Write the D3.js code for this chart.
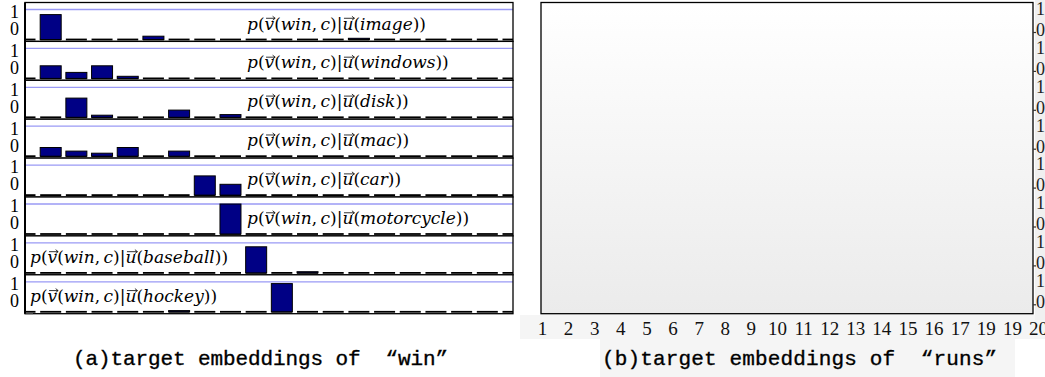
<!DOCTYPE html>
<html>
<head>
<meta charset="utf-8">
<script src="https://cdn.jsdelivr.net/npm/d3@7"></script>
<style>
  body { margin: 0; background: #fff; }
  svg { display: block; }
</style>
</head>
<body>
<svg id="chart" width="1045" height="377"></svg>
<script>
// --- data ---
const dims = [1, 2, 3, 4, 5, 6, 7, 8, 9, 10, 11, 12, 13, 14, 15, 16, 17, 18, 19, 20];
const xTickLabels = ["1", "2", "3", "4", "5", "6", "7", "8", "9", "10", "11", "12", "13", "14", "15", "16", "17", "19", "19", "20"];
const yTickLabels = ["1", "0"];
const contexts = ["image", "windows", "disk", "mac", "car", "motorcycle", "baseball", "hockey"];

const image      = [0, 0.83, 0, 0, 0, 0.11, 0, 0, 0, 0, 0, 0, 0, 0.04, 0, 0, 0, 0, 0, 0];
const windows    = [0, 0.42, 0.2, 0.42, 0.07, 0, 0, 0, 0, 0, 0, 0, 0, 0, 0, 0, 0, 0, 0, 0];
const disk       = [0, 0, 0.64, 0.07, 0, 0, 0.24, 0, 0.09, 0, 0, 0, 0, 0, 0, 0, 0, 0, 0, 0];
const mac        = [0, 0.29, 0.17, 0.1, 0.29, 0, 0.17, 0, 0, 0, 0, 0, 0, 0, 0, 0, 0, 0, 0, 0];
const car        = [0, 0, 0, 0, 0, 0, 0, 0.64, 0.36, 0, 0, 0, 0, 0, 0, 0, 0, 0, 0, 0];
const motorcycle = [0, 0, 0, 0, 0, 0, 0, 0, 1.0, 0, 0, 0, 0, 0, 0, 0, 0, 0, 0, 0];
const baseball   = [0, 0, 0, 0, 0, 0, 0, 0, 0, 0.87, 0, 0.04, 0, 0, 0, 0, 0, 0, 0, 0];
const hockey     = [0, 0, 0, 0, 0, 0, 0.04, 0, 0, 0, 0.94, 0, 0, 0, 0, 0, 0, 0, 0, 0];

const series = [image, windows, disk, mac, car, motorcycle, baseball, hockey];
const captionA = "(a)target embeddings of \u00a0\u201cwin\u201d";
const captionB = "(b)target embeddings of \u00a0\u201cruns\u201d";

// --- layout ---
const svg = d3.select("#chart");
const serif = "'Liberation Serif', 'DejaVu Serif', serif";
const mathFont = "'DejaVu Serif', serif";
const panelTop = 2.5, panelH = 38.9;
const left = { x0: 25, x1: 513 };
const right = { x0: 541, x1: 1033 };
const barW = 21;

const xL = d3.scaleLinear().domain([1, 20]).range([left.x0, left.x1]);
const xR = d3.scaleLinear().domain([1, 20]).range([542, 1038]);

const defs = svg.append("defs");
defs.append("clipPath").attr("id", "clipLeft")
  .append("rect").attr("x", left.x0).attr("y", 0).attr("width", left.x1 - left.x0).attr("height", 320);
defs.append("clipPath").attr("id", "clipLeftTicks")
  .append("rect").attr("x", 0).attr("y", 310).attr("width", 517).attr("height", 40);
const grad = defs.append("linearGradient").attr("id", "bgGrad")
  .attr("x1", 0).attr("y1", 0).attr("x2", 0).attr("y2", 1);
grad.append("stop").attr("offset", "0%").attr("stop-color", "#ffffff");
grad.append("stop").attr("offset", "100%").attr("stop-color", "#ebebeb");

// faint backgrounds of the pasted right-hand picture
svg.append("rect").attr("x", 520).attr("y", 315).attr("width", 525).attr("height", 24).attr("fill", "#f5f5f5");
svg.append("rect").attr("x", 1035).attr("y", 0).attr("width", 10).attr("height", 320).attr("fill", "#f0f0f0");
svg.append("rect").attr("x", 600).attr("y", 339).attr("width", 415).attr("height", 38).attr("fill", "#f5f5f5");

// --- left figure: 8 stacked bar panels ---
function mathLabel(g, x, y, ctx) {
  const fs = 17;
  const str = "p(v(win,\u2009c)|u(" + ctx + "))";
  const text = g.append("text").attr("x", x).attr("y", y)
    .style("font-family", mathFont).style("font-size", fs + "px").attr("fill", "#000");
  str.split("").forEach((ch) => {
    text.append("tspan").text(ch)
      .style("font-style", /[a-z]/.test(ch) ? "italic" : "normal");
  });
  // vector arrows over v (index 2) and u (index 12)
  [2, 12].forEach((k) => {
    const s = text.node().getStartPositionOfChar(k);
    const e = text.node().getEndPositionOfChar(k);
    const a0 = s.x + 1.5, a1 = e.x + 1, ay = y - fs * 0.66;
    g.append("path")
      .attr("d", `M${a0},${ay}L${a1},${ay}M${a1 - 2.5},${ay - 2}L${a1},${ay}L${a1 - 2.5},${ay + 2}`)
      .attr("fill", "none").attr("stroke", "#000").attr("stroke-width", 0.8);
  });
}

series.forEach((vals, i) => {
  const t = panelTop + i * panelH;
  const y = d3.scaleLinear().domain([0, 1]).range([t + 37, t + 7]);
  const g = svg.append("g");

  g.append("rect").attr("x", left.x0).attr("y", t).attr("width", left.x1 - left.x0).attr("height", panelH)
    .attr("fill", "#fff");

  // top guide line (value 1)
  g.append("line").attr("x1", left.x0).attr("x2", left.x1).attr("y1", y(1)).attr("y2", y(1))
    .attr("stroke", "#9a9af5").attr("stroke-width", 1.3);

  const bars = g.append("g").attr("clip-path", "url(#clipLeft)");
  bars.selectAll("line.zero").data(dims).join("line")
    .attr("x1", (d) => xL(d) - barW / 2).attr("x2", (d) => xL(d) + barW / 2)
    .attr("y1", y(0)).attr("y2", y(0))
    .attr("stroke", "#000").attr("stroke-width", 1.8);
  bars.selectAll("rect.bar").data(dims.filter((d, k) => vals[k] > 0)).join("rect")
    .attr("x", (d) => xL(d) - barW / 2).attr("width", barW)
    .attr("y", (d) => y(vals[d - 1])).attr("height", (d) => y(0) - y(vals[d - 1]))
    .attr("fill", "#000085").attr("stroke", "#000").attr("stroke-width", 1);

  const lx = i < 6 ? 247 : 30;
  mathLabel(g, lx, t + 27, contexts[i]);

  g.append("rect").attr("x", left.x0).attr("y", t).attr("width", left.x1 - left.x0).attr("height", panelH)
    .attr("fill", "none").attr("stroke", "#000").attr("stroke-width", 1.3);

  // y tick labels
  g.selectAll("text.ytick").data(yTickLabels).join("text")
    .attr("x", 19).attr("y", (d, k) => t + (k === 0 ? 9 : 26))
    .attr("dy", "0.35em").attr("text-anchor", "end")
    .style("font-family", serif).style("font-size", "18px").text((d) => d);
  // small tick at the panel boundary
  g.append("line").attr("x1", left.x0).attr("x2", left.x0 + 8).attr("y1", t + panelH).attr("y2", t + panelH)
    .attr("stroke", "#555").attr("stroke-width", 1);
});

// left axis line
svg.append("line").attr("x1", left.x0).attr("x2", left.x0)
  .attr("y1", panelTop).attr("y2", panelTop + 8 * panelH)
  .attr("stroke", "#000").attr("stroke-width", 2);

const bottomY = panelTop + 8 * panelH;
const axL = svg.append("g").attr("transform", `translate(0,${bottomY})`)
  .attr("clip-path", "url(#clipLeftTicks)")
  .call(d3.axisBottom(xL).tickValues(dims).tickFormat((d, k) => xTickLabels[k]).tickSize(0).tickPadding(8));
axL.select(".domain").remove();
axL.selectAll("text").style("font-family", serif).style("font-size", "19px").attr("fill", "#000");

// --- right figure: empty frame ---
svg.append("rect").attr("x", right.x0).attr("y", 2.5).attr("width", right.x1 - right.x0).attr("height", bottomY - 2.5)
  .attr("fill", "url(#bgGrad)").attr("stroke", "#000").attr("stroke-width", 1.3);
contexts.forEach((c, i) => {
  const t = panelTop + i * panelH;
  svg.append("line").attr("x1", right.x1).attr("x2", right.x1 + 3).attr("y1", t + 30).attr("y2", t + 30)
    .attr("stroke", "#333").attr("stroke-width", 1.2);
  svg.selectAll(null).data(yTickLabels).join("text")
    .attr("x", 1036).attr("y", (d, k) => t + (k === 0 ? 6 : 27))
    .attr("dy", "0.35em")
    .style("font-family", serif).style("font-size", "18px").attr("fill", "#222").text((d) => d);
});

const axR = svg.append("g").attr("transform", `translate(0,${bottomY})`)
  .call(d3.axisBottom(xR).tickValues(dims).tickFormat((d, k) => xTickLabels[k]).tickSize(0).tickPadding(8));
axR.select(".domain").remove();
axR.selectAll("text").style("font-family", serif).style("font-size", "19px").attr("fill", "#111");

// --- captions ---
const mono = "'Liberation Mono', 'DejaVu Sans Mono', monospace";
svg.append("text").attr("x", 73).attr("y", 365).attr("textLength", 375).attr("lengthAdjust", "spacing")
  .style("font-family", mono).style("font-size", "21px")
  .attr("stroke", "#000").attr("stroke-width", 0.35).text(captionA);
svg.append("text").attr("x", 602).attr("y", 365).attr("textLength", 395).attr("lengthAdjust", "spacing")
  .style("font-family", mono).style("font-size", "21px")
  .attr("stroke", "#000").attr("stroke-width", 0.35).text(captionB);
</script>
</body>
</html>
